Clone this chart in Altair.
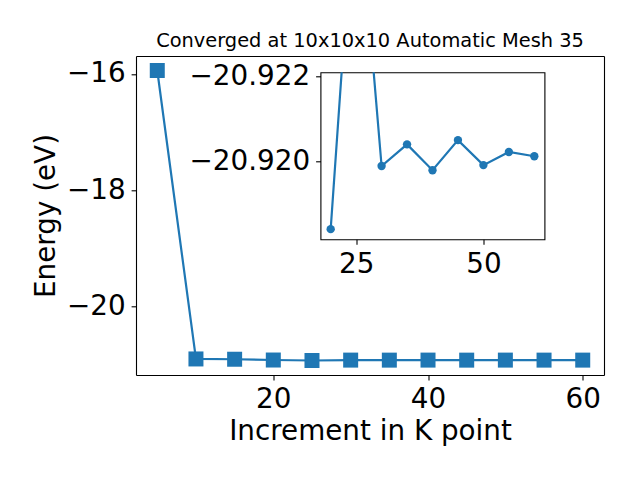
import altair as alt
import pandas as pd

# ---- data ----
kpoints = [5, 10, 15, 20, 25, 30, 35, 40, 45, 50, 55, 60]
energy = [-15.94, -20.900, -20.905, -20.9184, -20.9270, -20.91989, -20.92040,
          -20.91979, -20.92050, -20.91991, -20.92022, -20.92012]
main_xticks = [20, 40, 60]
main_yticks = [-16, -18, -20]
inset_xticks = [25, 50]
inset_yticks = [-20.922, -20.920]
title_text = "Converged at 10x10x10 Automatic Mesh 35"

df = pd.DataFrame({"k": kpoints, "E": energy})

BLUE = "#1f77b4"
FONT = "DejaVu Sans"
MINUS = "\u2212"

# layout (pixels, relative to the inset panel which is the view)
IW, IH = 224, 167            # inset panel
ML, MT, MR, MB = -184.5, -16.3, 283.5, 302.7   # main panel edges
PAD_L, PAD_T = 312.5, 64.3   # inset origin inside the 624x464 svg

main_xscale = alt.Scale(domain=[2.25, 62.75], range=[ML, MR], nice=False, zero=False)
main_yscale = alt.Scale(domain=[-21.176, -15.691], range=[MB, MT], nice=False, zero=False)

main_line = alt.Chart(df).mark_line(color=BLUE, strokeWidth=2.2, clip=False).encode(
    x=alt.X("k:Q", scale=main_xscale,
            axis=alt.Axis(orient="bottom", offset=MB - IH, values=main_xticks, format="d",
                          title="Increment in K point", titlePadding=26,
                          titleBaseline="alphabetic", domain=True)),
    y=alt.Y("E:Q", scale=main_yscale,
            axis=alt.Axis(orient="left", offset=-ML, values=main_yticks,
                          labelExpr=f"replace(format(datum.value, 'd'), '-', '{MINUS}')",
                          title="Energy (eV)", titlePadding=12,
                          titleBaseline="alphabetic", domain=True)),
)
main_pts = alt.Chart(df).mark_point(shape="square", filled=True, color=BLUE, size=225,
                                    opacity=1, clip=False).encode(
    x=alt.X("k:Q", scale=main_xscale,
            axis=alt.Axis(orient="top", offset=-MT, domain=True, ticks=False,
                          labels=False, title=None)),
    y=alt.Y("E:Q", scale=main_yscale,
            axis=alt.Axis(orient="right", offset=MR - IW, domain=True, ticks=False,
                          labels=False, title=None)),
)

ins_xscale = alt.Scale(domain=[18, 62], nice=False, zero=False)
ins_yscale = alt.Scale(domain=[-20.9221, -20.91816], range=[0, IH], nice=False, zero=False)
ibase = alt.Chart(df).transform_filter("datum.k >= 20")
ins_line = ibase.mark_line(color=BLUE, strokeWidth=2.2, clip=True).encode(
    x=alt.X("k:Q", scale=ins_xscale,
            axis=alt.Axis(orient="bottom", values=inset_xticks, format="d", title=None,
                          domain=False)),
    y=alt.Y("E:Q", scale=ins_yscale,
            axis=alt.Axis(orient="left", values=inset_yticks, title=None, domain=False,
                          labelExpr=f"replace(format(datum.value, '.3f'), '-', '{MINUS}')")),
)
ins_pts = ibase.mark_point(shape="circle", filled=True, color=BLUE, size=70, opacity=1,
                           clip=True).encode(
    x=alt.X("k:Q", scale=ins_xscale, axis=None),
    y=alt.Y("E:Q", scale=ins_yscale, axis=None),
)

chart = alt.layer(main_line, main_pts, ins_line, ins_pts).resolve_scale(
    x="independent", y="independent"
).resolve_axis(
    x="independent", y="independent"
).properties(
    width=IW, height=IH,
    title=alt.TitleParams(title_text, fontSize=19.4, font=FONT, fontWeight="normal",
                          anchor="middle", frame="group", baseline="alphabetic",
                          offset=24.6, dx=(ML + MR) / 2 - IW / 2, dy=35, color="black"),
    autosize=alt.AutoSizeParams(type="none"),
    padding={"left": PAD_L, "top": PAD_T, "right": 624 - PAD_L - IW,
             "bottom": 464 - PAD_T - IH},
).configure(font=FONT).configure_view(
    stroke="black", strokeWidth=1.1, fill=None
).configure_axis(
    grid=False, tickColor="black", tickWidth=1.1, tickSize=4.9,
    domainColor="black", domainWidth=1.1,
    labelFont=FONT, labelFontSize=27.8, labelColor="black", labelPadding=6,
    titleFont=FONT, titleFontSize=27.8, titleFontWeight="normal", titleColor="black",
    labelFlush=False, labelOverlap=False,
)

chart.save("out.html", embed_options={"renderer": "svg", "actions": False})
